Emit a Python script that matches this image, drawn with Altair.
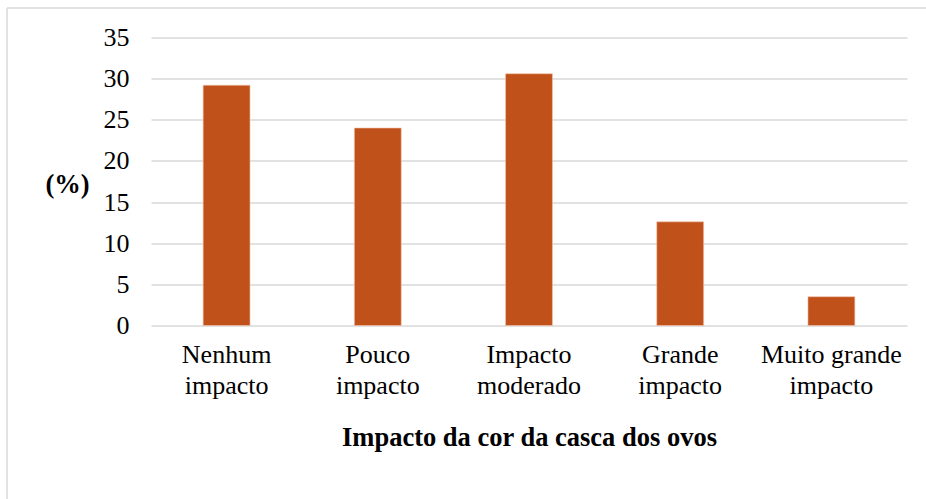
import altair as alt
import pandas as pd

categories = ["Nenhum impacto", "Pouco impacto", "Impacto moderado", "Grande impacto", "Muito grande impacto"]
label_lines = [["Nenhum", "impacto"], ["Pouco", "impacto"], ["Impacto", "moderado"], ["Grande", "impacto"], ["Muito grande", "impacto"]]
values = [29.2, 24.0, 30.6, 12.6, 3.5]
y_ticks = [0, 5, 10, 15, 20, 25, 30, 35]

df = pd.DataFrame({"cat": categories, "val": values})

label_expr = "{" + ", ".join(
    f'"{c}": ["{a}", "{b}"]' for c, (a, b) in zip(categories, label_lines)
) + "}[datum.value]"

FONT = "Liberation Serif"
W, H = 756, 288
PAD_L, PAD_T = 151, 37.5
TOTAL_W, TOTAL_H = 926, 499

bars = alt.Chart(df).mark_bar(color="#C1511A", stroke="#F2C2A8", strokeWidth=0.6).encode(
    x=alt.X("cat:N", sort=categories,
            scale=alt.Scale(paddingInner=0.69, paddingOuter=0.345),
            axis=alt.Axis(title="Impacto da cor da casca dos ovos", labelExpr=label_expr,
                          labelAngle=0, labelFont=FONT, labelFontSize=26, labelColor="#000000",
                          labelLineHeight=31, labelPadding=16, ticks=False, domain=False,
                          titleFont=FONT, titleFontSize=26.5, titleFontWeight="bold",
                          titleColor="#000000", titlePadding=26)),
    y=alt.Y("val:Q", scale=alt.Scale(domain=[0, 35], nice=False),
            axis=alt.Axis(title="(%)", values=y_ticks, grid=True, gridColor="#D9D9D9",
                          gridWidth=1.5, domain=False, ticks=False, labelFont=FONT,
                          labelFontSize=26, labelColor="#000000", labelPadding=22,
                          titleFont=FONT, titleFontSize=26.5, titleFontWeight="bold",
                          titleColor="#000000", titleAngle=0, titleAlign="center",
                          titleBaseline="middle", titleX=-84, titleY=H / 2 + 3)),
)

one = pd.DataFrame({"a": [0]})
frame_left = alt.Chart(one).mark_rule(color="#D9D9D9", strokeWidth=1.5).encode(
    x=alt.value(7 - PAD_L), y=alt.value(8 - PAD_T), y2=alt.value(TOTAL_H - PAD_T + 10),
)
frame_top = alt.Chart(one).mark_rule(color="#D9D9D9", strokeWidth=1.5).encode(
    x=alt.value(7 - PAD_L), x2=alt.value(TOTAL_W - PAD_L + 10), y=alt.value(8 - PAD_T),
)

chart = alt.layer(frame_left, frame_top, bars).properties(
    width=W, height=H,
    padding={"left": PAD_L, "top": PAD_T, "right": TOTAL_W - PAD_L - W,
             "bottom": TOTAL_H - PAD_T - H},
    autosize=alt.AutoSizeParams(type="none"),
    background="#FFFFFF",
).configure_view(stroke=None)

chart.save("out.html", embed_options={"renderer": "svg", "actions": False})
